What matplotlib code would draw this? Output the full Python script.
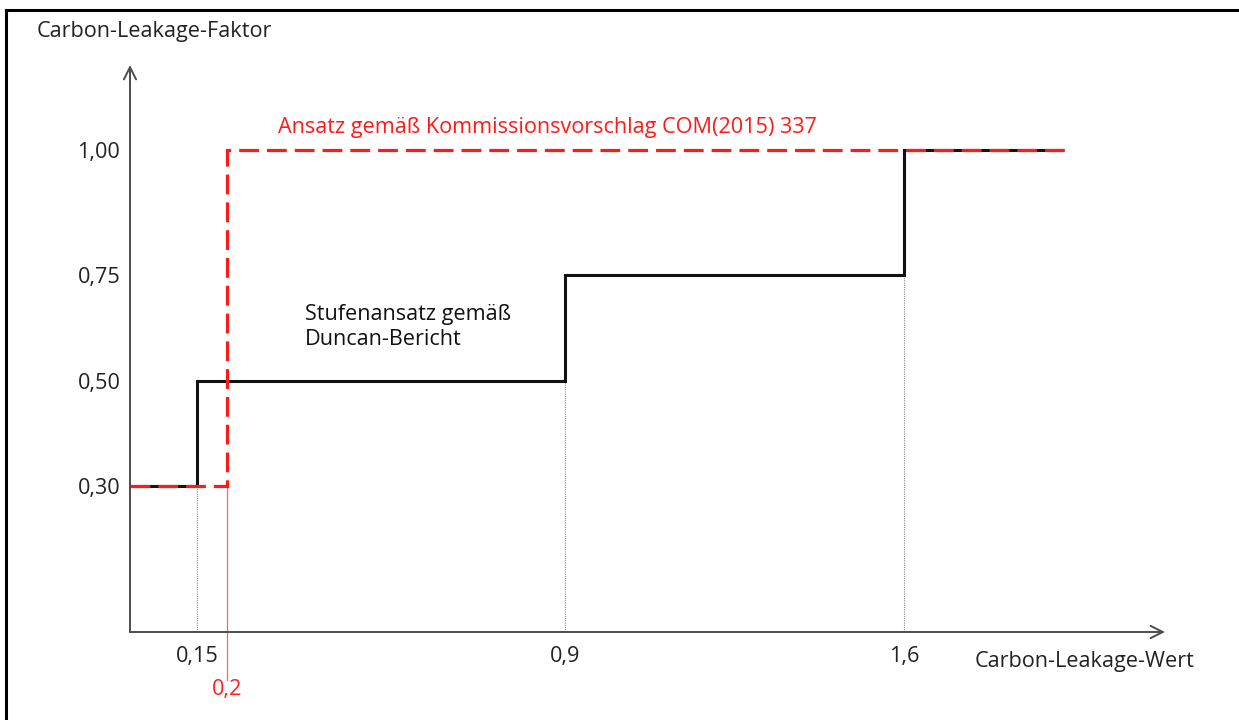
import numpy as np
import matplotlib
matplotlib.use('Agg')
import matplotlib.pyplot as plt
from matplotlib.lines import Line2D

plt.rcParams['font.family'] = ['Open Sans', 'DejaVu Sans']

# ---------------- data ----------------
x_tick_values = [0.15, 0.9, 1.6]
x_tick_labels = ['0,15', '0,9', '1,6']
y_tick_values = [0.30, 0.50, 0.75, 1.00]
y_tick_labels = ['0,30', '0,50', '0,75', '1,00']

duncan_edges = [0.0, 0.15, 0.9, 1.6, 1.93]
duncan_levels = [0.30, 0.50, 0.75, 1.00]

com_edges = [0.0, 0.2, 1.93]
com_levels = [0.30, 1.00]
com_threshold = 0.2
com_threshold_label = '0,2'

y_axis_title = 'Carbon-Leakage-Faktor'
x_axis_title = 'Carbon-Leakage-Wert'
com_label = 'Ansatz gemäß Kommissionsvorschlag COM(2015) 337'
duncan_label = 'Stufenansatz gemäß\nDuncan-Bericht'

# ---------------- schematic (piecewise) scales ----------------
def piecewise(xs, ps):
    xs = np.asarray(xs, float); ps = np.asarray(ps, float)
    s0 = (ps[1] - ps[0]) / (xs[1] - xs[0])
    s1 = (ps[-1] - ps[-2]) / (xs[-1] - xs[-2])
    X = np.concatenate([[xs[0] - 100], xs, [xs[-1] + 100]])
    P = np.concatenate([[ps[0] - 100 * s0], ps, [ps[-1] + 100 * s1]])
    return (lambda v: np.interp(v, X, P)), (lambda p: np.interp(p, P, X))

fx, ix = piecewise([0, 0.15, 0.2, 0.9, 1.6], [0, 67, 97, 435, 774])
fy, iy = piecewise([0, 0.3, 0.5, 0.75, 1.0], [0, 146, 251, 357, 482])

FS = 15.6
W, H = 1239, 720
fig = plt.figure(figsize=(W / 100, H / 100), dpi=100)
ox, oy = 130, 632
ax_w, ax_h = 1035, 567
ax = fig.add_axes([ox / W, (H - oy) / H, ax_w / W, ax_h / H])
ax.set_xscale('function', functions=(fx, ix))
ax.set_yscale('function', functions=(fy, iy))
ax.set_xlim(0, float(ix(ax_w)))
ax.set_ylim(0, float(iy(ax_h)))
for s in ax.spines.values():
    s.set_visible(False)
ax.patch.set_visible(False)

axis_col = '#4d4d4d'
ax.annotate('', xy=(1, 0), xytext=(0, 0), xycoords='axes fraction',
            arrowprops=dict(arrowstyle='->', color=axis_col, lw=1.4,
                            mutation_scale=22, shrinkA=0, shrinkB=0))
ax.annotate('', xy=(0, 1), xytext=(0, 0), xycoords='axes fraction',
            arrowprops=dict(arrowstyle='->', color=axis_col, lw=1.4,
                            mutation_scale=22, shrinkA=0, shrinkB=0))

# dotted guide lines from the steps down to the x axis
for xv, lv in zip(duncan_edges[1:-1], duncan_levels[:-1]):
    ax.plot([xv, xv], [0, lv], color='#8a8a8a', lw=0.8, ls=(0, (1, 1)), zorder=1)

# red thin line for the 0.2 threshold (extends below axis)
ax.plot([com_threshold, com_threshold], [com_levels[0], float(iy(-48))],
        color='#ff6666', lw=0.9, clip_on=False, zorder=1)

# step lines
ax.stairs(duncan_levels, duncan_edges, baseline=None, color='#111111', lw=2.2, zorder=3)
ax.stairs(com_levels, com_edges, baseline=None, color='#ff1a1a', lw=2.3,
          linestyle=(0, (6.2, 2.5)), zorder=4)

# ticks
ax.set_yticks(y_tick_values, y_tick_labels)
ax.set_xticks(x_tick_values, x_tick_labels)
ax.tick_params(axis='both', length=0, labelsize=FS, colors='#222222')
ax.tick_params(axis='y', pad=7)
ax.tick_params(axis='x', pad=10)
ax.minorticks_off()

ax.text(com_threshold, float(iy(-58)), com_threshold_label, color='#ff2020',
        fontsize=FS, ha='center', va='center', clip_on=False)

# annotations
ax.text(float(ix(148)), float(iy(504)), com_label, color='#ff1a1a', fontsize=FS,
        ha='left', va='center')
ax.text(float(ix(175)), float(iy(305)), duncan_label, color='#111111', fontsize=FS,
        ha='left', va='center', linespacing=1.2)

fig.text(37 / W, 1 - 32 / H, y_axis_title, fontsize=FS, color='#222222',
         ha='left', va='center')
fig.text(975 / W, 1 - 662 / H, x_axis_title, fontsize=FS, color='#222222',
         ha='left', va='center')

# frame border (top & left)
fig.add_artist(Line2D([6 / W, 6 / W], [0, 1 - 10 / H], transform=fig.transFigure,
                      color='black', lw=2.2, solid_capstyle='projecting'))
fig.add_artist(Line2D([6 / W, 1], [1 - 10 / H, 1 - 10 / H], transform=fig.transFigure,
                      color='black', lw=2.2, solid_capstyle='projecting'))

fig.savefig('out.png', dpi=100, facecolor='white')
